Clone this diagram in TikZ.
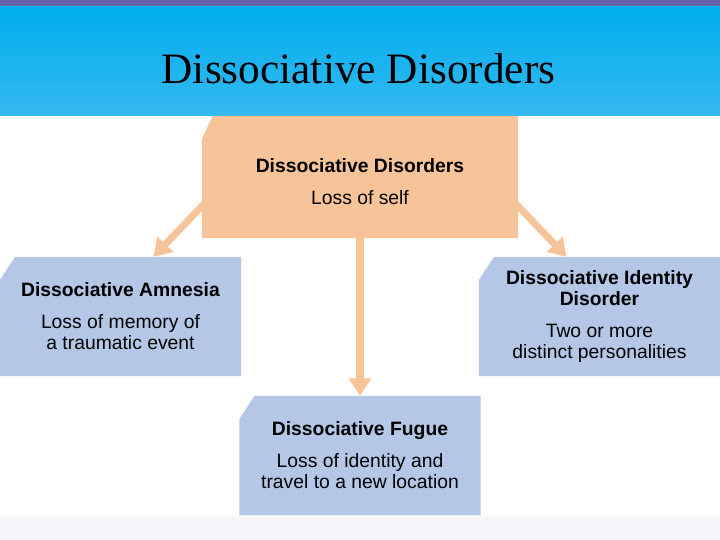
\documentclass[tikz,border=0pt]{standalone}
\usepackage{fontspec}
\setmainfont{Liberation Sans}
\newfontfamily\titlefont{Liberation Serif}
\usetikzlibrary{arrows.meta,backgrounds}

\definecolor{bannerblue}{HTML}{00AEEF}
\definecolor{bannerlight}{HTML}{35B9F0}
\definecolor{bandpurple}{HTML}{6363A8}
\definecolor{peach}{HTML}{F6C498}
\definecolor{paleblue}{HTML}{B4C7E7}
\definecolor{footgray}{HTML}{F4F6FA}

\tikzset{
  cut/.style 2 args = {path picture={\fill[#2]
    ([xshift=#1]path picture bounding box.north west)
    -- (path picture bounding box.north east) -- (path picture bounding box.south east)
    -- (path picture bounding box.south west)
    -- ([yshift=-0.68cm]path picture bounding box.north west) -- cycle;}},
  box/.style = {rectangle, minimum width=7.23cm, minimum height=3.57cm, inner sep=0pt,
    align=center, font=\fontsize{16.5}{17.9}\selectfont, cut={0.45cm}{paleblue}},
  topbox/.style = {box, minimum width=9.48cm, minimum height=3.66cm, cut={0.32cm}{peach}},
  link/.style = {line width=6pt, color=peach, -{Triangle[width=0.64cm,length=0.52cm]}}
}

\begin{document}
\begin{tikzpicture}[x=0.03cm, y=-0.03cm]
    \useasboundingbox (0,0) rectangle (720,540);

    \fill[footgray] (0,515) rectangle (720,540);
    \shade[top color=bannerblue, bottom color=bannerlight] (0,6) rectangle (720,116);
    \fill[bandpurple] (0,0) rectangle (720,6);
    \node[font=\titlefont\fontsize{37}{40}\selectfont, anchor=base] (title) at (358.5,84) {Dissociative Disorders};

    \node[topbox] (dd) at (360,177) {\rule{0pt}{19pt}\textbf{Dissociative Disorders}\\[9.4pt]Loss of self};
    \node[box] (amn) at (120.5,316.5) {\textbf{Dissociative Amnesia}\\[9.4pt]Loss of memory of\\a traumatic event};
    \node[box] (did) at (599.5,316.5) {\textbf{Dissociative Identity}\\\textbf{Disorder}\\[9.4pt]Two or more\\distinct personalities};
    \node[box] (fug) at (360,455.5) {\textbf{Dissociative Fugue}\\[9.4pt]Loss of identity and\\travel to a new location};

    \begin{scope}[on background layer]
        \draw[link] ([shift={(6,23)}]dd.west) -- ([shift={(33,0)}]amn.north);
        \draw[link] ([shift={(-6,23)}]dd.east) -- ([shift={(-33,0)}]did.north);
        \draw[link] (dd.center) -- (fug.north);
    \end{scope}
\end{tikzpicture}
\end{document}
